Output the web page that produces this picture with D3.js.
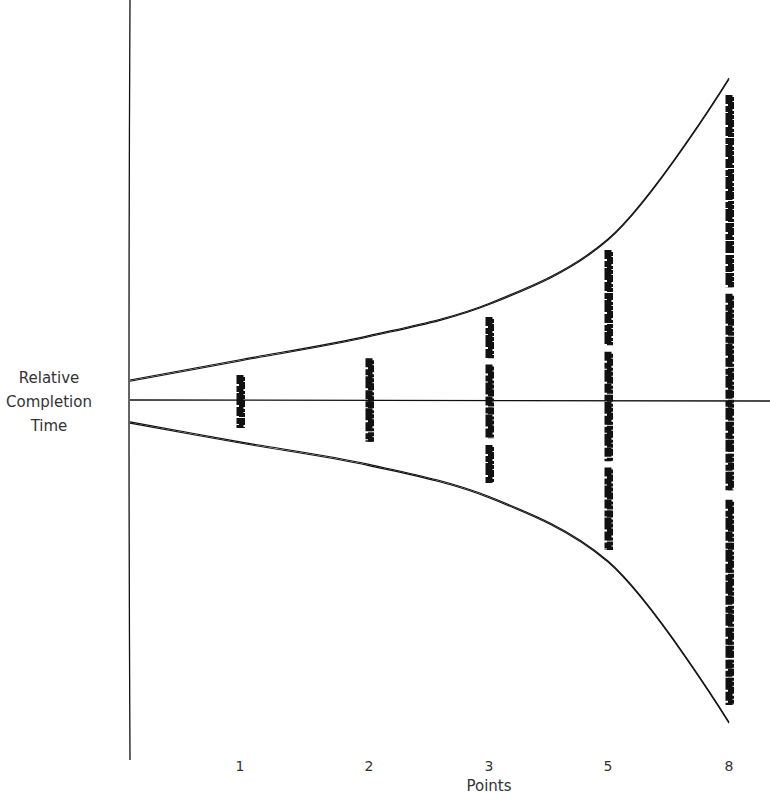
<!DOCTYPE html>
<html><head><meta charset="utf-8">
<script src="https://cdn.jsdelivr.net/npm/d3@7"></script>
<style>body{margin:0;background:#fff}</style></head>
<body><svg id="c" width="770" height="801"></svg>
<script>
const categories = ["0","1","2","3","5","8"];
const tickLabels = ["1","2","3","5","8"];
const upperBound = [0.062,0.125,0.2,0.3,0.5,1.0];
const lowerBound = [-0.068,-0.13,-0.2,-0.3,-0.5,-1.0];
// value ranges occupied by each column of points
const columnSegments = [
  [[0.078,-0.087]],
  [[0.13,-0.13]],
  [[0.258,0.13],[0.11,-0.12],[-0.14,-0.258]],
  [[0.466,0.17],[0.15,-0.19],[-0.21,-0.466]],
  [[0.947,0.35],[0.33,-0.28],[-0.31,-0.947]]
];
const svg = d3.select("#c");
const xPos = {"0":130,"1":240,"2":369,"3":489,"5":608,"8":729};
const x = d3.scaleOrdinal().domain(categories).range(categories.map(c=>xPos[c]));
const y = d3.scaleLinear().domain([-1,1]).range([722,78]);
const ink="#111";
svg.append("path").attr("d","M130,0 Q128,380 130,760").attr("stroke",ink).attr("fill","none").attr("stroke-width",1.3);
svg.append("line").attr("x1",130).attr("x2",770).attr("y1",y(0)).attr("y2",y(0)+1).attr("stroke",ink).attr("stroke-width",1.3);
const line = d3.line().x((d,i)=>x(categories[i])).y(d=>y(d)).curve(d3.curveCatmullRom.alpha(0.5));
[upperBound,lowerBound].forEach(arr=>{
  [0,1.2].forEach(off=>{
    svg.append("path").attr("d",line(arr)).attr("transform",`translate(0,${off})`)
      .attr("fill","none").attr("stroke",ink).attr("stroke-width",1.1);
  });
});
tickLabels.forEach((t,i)=>{
  const cx=x(t);
  columnSegments[i].forEach(s=>{
    svg.append("line").attr("x1",cx).attr("x2",cx).attr("y1",y(s[0])).attr("y2",y(s[1]))
      .attr("stroke",ink).attr("stroke-width",7).attr("stroke-dasharray","9 2 6 1 12 2");
    svg.append("line").attr("x1",cx+2).attr("x2",cx+2).attr("y1",y(s[0])+2).attr("y2",y(s[1]))
      .attr("stroke",ink).attr("stroke-width",6).attr("stroke-dasharray","4 1 7 2 3 1");
  });
  svg.append("text").attr("x",cx).attr("y",771).attr("text-anchor","middle")
    .attr("font-family","DejaVu Sans").attr("font-size",14).attr("fill","#333").text(t);
});
svg.append("text").attr("x",489).attr("y",791).attr("text-anchor","middle")
  .attr("font-family","DejaVu Sans").attr("font-size",15).attr("fill","#333").text("Points");
["Relative","Completion","Time"].forEach((t,i)=>{
  svg.append("text").attr("x",49).attr("y",383+i*24).attr("text-anchor","middle")
    .attr("font-family","DejaVu Sans").attr("font-size",15).attr("fill","#333").text(t);
});
</script></body></html>
